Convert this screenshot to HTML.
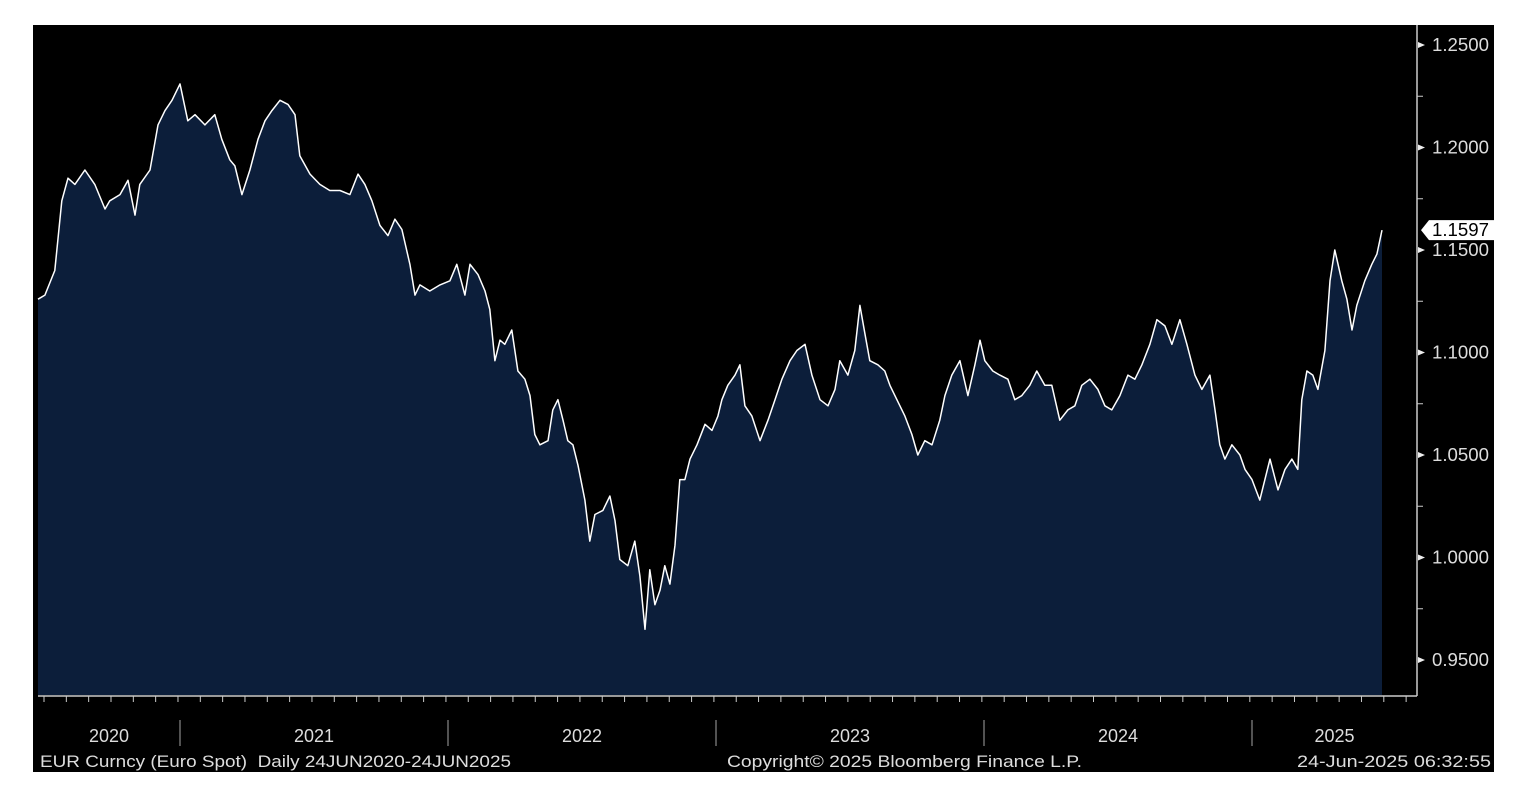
<!DOCTYPE html>
<html><head><meta charset="utf-8"><style>
html,body{margin:0;padding:0;background:#fff;width:1526px;height:806px;overflow:hidden}
svg{display:block}
text{font-family:"Liberation Sans",sans-serif}
</style></head><body>
<svg id="chart" width="1526" height="806">
<rect x="33" y="25" width="1461" height="747" fill="#000"/>
<g id="plot"></g>
</svg>
<script>
const dates=[2020.470,2020.496,2020.533,2020.559,2020.582,2020.608,2020.645,2020.682,2020.720,2020.738,2020.776,2020.806,2020.832,2020.850,2020.888,2020.918,2020.944,2020.970,2021.000,2021.029,2021.056,2021.093,2021.130,2021.156,2021.186,2021.205,2021.231,2021.261,2021.291,2021.317,2021.343,2021.373,2021.403,2021.429,2021.447,2021.485,2021.522,2021.559,2021.597,2021.634,2021.664,2021.690,2021.716,2021.746,2021.776,2021.802,2021.828,2021.858,2021.877,2021.895,2021.932,2021.970,2022.007,2022.033,2022.063,2022.082,2022.112,2022.138,2022.156,2022.175,2022.194,2022.212,2022.238,2022.261,2022.287,2022.306,2022.324,2022.343,2022.373,2022.391,2022.410,2022.429,2022.447,2022.466,2022.485,2022.511,2022.529,2022.548,2022.578,2022.604,2022.623,2022.641,2022.671,2022.697,2022.716,2022.735,2022.753,2022.772,2022.791,2022.809,2022.828,2022.847,2022.865,2022.884,2022.903,2022.929,2022.959,2022.985,2023.007,2023.022,2023.044,2023.071,2023.089,2023.108,2023.134,2023.164,2023.194,2023.220,2023.246,2023.276,2023.302,2023.332,2023.358,2023.388,2023.418,2023.444,2023.462,2023.492,2023.518,2023.537,2023.556,2023.574,2023.604,2023.630,2023.649,2023.675,2023.705,2023.731,2023.753,2023.779,2023.806,2023.835,2023.854,2023.880,2023.910,2023.940,2023.966,2023.985,2024.003,2024.033,2024.059,2024.089,2024.115,2024.141,2024.171,2024.197,2024.227,2024.253,2024.283,2024.313,2024.339,2024.365,2024.395,2024.425,2024.451,2024.477,2024.507,2024.537,2024.563,2024.589,2024.619,2024.645,2024.675,2024.701,2024.731,2024.757,2024.787,2024.813,2024.843,2024.862,2024.880,2024.899,2024.925,2024.955,2024.974,2025.000,2025.029,2025.048,2025.067,2025.097,2025.123,2025.149,2025.171,2025.186,2025.205,2025.227,2025.246,2025.272,2025.291,2025.309,2025.335,2025.354,2025.373,2025.391,2025.421,2025.447,2025.466,2025.485];
const values=[1.126,1.128,1.140,1.174,1.185,1.182,1.189,1.182,1.170,1.174,1.177,1.184,1.167,1.182,1.189,1.211,1.218,1.223,1.231,1.213,1.216,1.211,1.216,1.204,1.194,1.191,1.177,1.189,1.204,1.213,1.218,1.223,1.221,1.216,1.196,1.187,1.182,1.179,1.179,1.177,1.187,1.182,1.174,1.162,1.157,1.165,1.160,1.143,1.128,1.133,1.130,1.133,1.135,1.143,1.128,1.143,1.138,1.130,1.121,1.096,1.106,1.104,1.111,1.091,1.087,1.079,1.060,1.055,1.057,1.072,1.077,1.067,1.057,1.055,1.045,1.028,1.008,1.021,1.023,1.030,1.018,0.999,0.996,1.008,0.991,0.965,0.994,0.977,0.984,0.996,0.987,1.006,1.038,1.038,1.048,1.055,1.065,1.062,1.069,1.077,1.084,1.089,1.094,1.074,1.069,1.057,1.067,1.077,1.087,1.096,1.101,1.104,1.089,1.077,1.074,1.082,1.096,1.089,1.101,1.123,1.109,1.096,1.094,1.091,1.084,1.077,1.069,1.060,1.050,1.057,1.055,1.067,1.079,1.089,1.096,1.079,1.094,1.106,1.096,1.091,1.089,1.087,1.077,1.079,1.084,1.091,1.084,1.084,1.067,1.072,1.074,1.084,1.087,1.082,1.074,1.072,1.079,1.089,1.087,1.094,1.104,1.116,1.113,1.104,1.116,1.104,1.089,1.082,1.089,1.072,1.055,1.048,1.055,1.050,1.043,1.038,1.028,1.038,1.048,1.033,1.043,1.048,1.043,1.077,1.091,1.089,1.082,1.101,1.135,1.150,1.135,1.126,1.111,1.123,1.135,1.143,1.148,1.1597];
const yTicks=[1.25,1.20,1.15,1.10,1.05,1.00,0.95];
const yTickLabels=["1.2500","1.2000","1.1500","1.1000","1.0500","1.0000","0.9500"];
const years=[2020,2021,2022,2023,2024,2025];
const lastLabel="1.1597";

const NS="http://www.w3.org/2000/svg";
const g=document.getElementById('plot');
const X=t=>180+(t-2021)*268;
const Y=v=>45+(1.25-v)*2050;
const BASE=695;
function mk(tag,attrs){const e=document.createElementNS(NS,tag);for(const k in attrs)e.setAttribute(k,attrs[k]);g.appendChild(e);return e;}

let d='M'+X(dates[0])+','+BASE;
dates.forEach((t,i)=>{d+=' L'+X(t).toFixed(1)+','+Y(values[i]).toFixed(1);});
d+=' L'+X(dates[dates.length-1]).toFixed(1)+','+BASE+' Z';
const area=mk('path',{d:d,fill:'#0c1e3a'});


let ld='';
dates.forEach((t,i)=>{ld+=(i?' L':'M')+X(t).toFixed(1)+','+Y(values[i]).toFixed(1);});
const line=mk('path',{d:ld,fill:'none',stroke:'#fff','stroke-width':1.5,'stroke-linejoin':'round'});



const xa=mk('line',{x1:38,y1:696,x2:1417,y2:696,stroke:'#ccc','stroke-width':1.5});


const ya=mk('line',{x1:1417,y1:25,x2:1417,y2:696,stroke:'#ccc','stroke-width':1.5});


for(let x=44;x<1417;x+=22.33){const t=mk('line',{x1:x,y1:696,x2:x,y2:702,stroke:'#ccc','stroke-width':1});

}
years.forEach((yr,i)=>{
  const x0=Math.max(38,X(yr)),x1=Math.min(1417,X(yr+1));
  const tx=mk('text',{x:(x0+x1)/2,y:742,fill:'#ddd','font-size':18,'text-anchor':'middle'});tx.textContent=yr;
  
  
  if(i>0){const s=mk('line',{x1:X(yr),y1:720,x2:X(yr),y2:746,stroke:'#888','stroke-width':1.2});
  
  }
});
yTicks.forEach((v,i)=>{
  const y=Y(v);
  const tri=mk('path',{d:`M1418,${y-3} L1425,${y} L1418,${y+3} Z`,fill:'#eee'});
  
  
  const tx=mk('text',{x:1432,y:y+6,fill:'#ddd','font-size':18,textLength:57,lengthAdjust:'spacingAndGlyphs'});tx.textContent=yTickLabels[i];
  
  
  if(i<yTicks.length-1){const m=mk('line',{x1:1417,y1:Y(v-0.025),x2:1423,y2:Y(v-0.025),stroke:'#ccc'});
  
  }
});
const lv=values[values.length-1],ly=Y(lv);
const cb=mk('path',{d:`M1421,${ly} L1429,${ly-10} L1494,${ly-10} L1494,${ly+10} L1429,${ly+10} Z`,fill:'#fff'});


const ct=mk('text',{x:1432,y:ly+6,fill:'#000','font-size':18,textLength:57,lengthAdjust:'spacingAndGlyphs'});ct.textContent=lastLabel;


const f1=mk('text',{x:40,y:767,fill:'#ddd','font-size':17,textLength:471,lengthAdjust:'spacingAndGlyphs'});f1.textContent='EUR Curncy (Euro Spot)  Daily 24JUN2020-24JUN2025';


f1.style.whiteSpace='pre';
const f2=mk('text',{x:727,y:767,fill:'#ddd','font-size':17,textLength:355,lengthAdjust:'spacingAndGlyphs'});f2.textContent='Copyright© 2025 Bloomberg Finance L.P.';


const f3=mk('text',{x:1297,y:767,fill:'#ddd','font-size':17,textLength:194,lengthAdjust:'spacingAndGlyphs'});f3.textContent='24-Jun-2025 06:32:55';


</script>
</body></html>
